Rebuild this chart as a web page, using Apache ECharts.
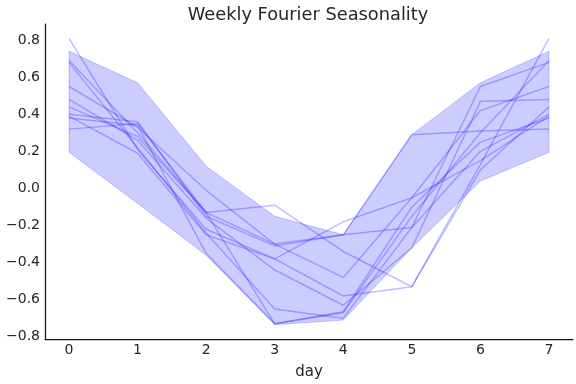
<!DOCTYPE html>
<html><head><meta charset="utf-8">
<script src="https://cdn.jsdelivr.net/npm/echarts@6/dist/echarts.min.js"></script>
<style>html,body{margin:0;padding:0;background:#fff}#c{width:576px;height:384px}</style>
</head><body><div id="c"></div>
<script>
const days = [0, 1, 2, 3, 4, 5, 6, 7];
const bandUpper = [0.74, 0.57, 0.12, -0.15, -0.25, 0.29, 0.57, 0.74];
const bandLower = [0.195, -0.08, -0.36, -0.735, -0.71, -0.32, 0.04, 0.195];
const s1 = [0.81, 0.21, -0.22, -0.38, -0.58, -0.53, 0.13, 0.81];
const s2 = [0.69, 0.30, -0.13, -0.73, -0.67, -0.15, 0.30, 0.69];
const s3 = [0.68, 0.22, -0.24, -0.65, -0.70, -0.21, 0.55, 0.68];
const s4 = [0.55, 0.33, -0.01, -0.30, -0.48, -0.05, 0.42, 0.55];
const s5 = [0.48, 0.26, -0.16, -0.44, -0.63, -0.32, 0.47, 0.48];
const s6 = [0.44, 0.28, -0.13, -0.09, -0.34, -0.53, 0.10, 0.44];
const s7 = [0.40, 0.36, -0.15, -0.31, -0.25, -0.21, 0.20, 0.40];
const s8 = [0.39, 0.19, -0.25, -0.38, -0.18, -0.05, 0.15, 0.39];
const s9 = [0.38, 0.34, -0.35, -0.73, -0.665, -0.10, 0.25, 0.38];
const s10 = [0.32, 0.35, -0.13, -0.30, -0.25, 0.29, 0.31, 0.32];
const samples = [s1, s2, s3, s4, s5, s6, s7, s8, s9, s10];
const yTicks = [-0.8, -0.6, -0.4, -0.2, 0.0, 0.2, 0.4, 0.6, 0.8];
const xTicks = [0, 1, 2, 3, 4, 5, 6, 7];

const FONT = 'DejaVu Sans';
const chart = echarts.init(document.getElementById('c'), null, {renderer: 'canvas'});
const fmtY = v => (v < -1e-9 ? '\u2212' + Math.abs(v).toFixed(1) : Math.abs(v).toFixed(1));

const series = [{
  type: 'custom',
  silent: true,
  data: days.map(d => [d, 0]),
  renderItem: function (params, api) {
    if (params.dataIndex !== 0) return null;
    const pts = [];
    days.forEach((d, i) => pts.push(api.coord([d, bandUpper[i]])));
    for (let i = days.length - 1; i >= 0; i--) pts.push(api.coord([days[i], bandLower[i]]));
    return {
      type: 'polygon',
      shape: {points: pts},
      style: {fill: 'rgba(0,0,255,0.2)', stroke: 'rgba(0,0,255,0.2)', lineWidth: 1}
    };
  },
  z: 1
}];
samples.forEach(s => series.push({
  type: 'line',
  data: days.map((d, i) => [d, s[i]]),
  showSymbol: false,
  silent: true,
  lineStyle: {color: 'rgba(0,0,255,0.25)', width: 1.5},
  z: 2
}));

chart.setOption({
  animation: false,
  title: {
    text: 'Weekly Fourier Seasonality',
    left: 303, top: 1, textAlign: 'center',
    textStyle: {fontFamily: FONT, fontSize: 17.8, fontWeight: 'normal', color: '#262626'}
  },
  grid: {left: 45, right: 3, top: 24, bottom: 45, containLabel: false, outerBoundsMode: 'none'},
  xAxis: {
    type: 'value', min: -0.35, max: 7.35,
    name: 'day', nameLocation: 'middle', nameGap: 26,
    nameTextStyle: {fontFamily: FONT, fontSize: 15, color: '#262626'},
    axisLine: {show: true, onZero: false, lineStyle: {color: '#111', width: 1.25}},
    axisTick: {show: false},
    splitLine: {show: false},
    axisLabel: {customValues: xTicks, fontFamily: FONT, fontSize: 14, color: '#262626', margin: 4,
      formatter: v => String(Math.round(v))}
  },
  yAxis: {
    type: 'value', min: -0.812, max: 0.887,
    axisLine: {show: true, onZero: false, lineStyle: {color: '#111', width: 1.25}},
    axisTick: {show: false},
    splitLine: {show: false},
    axisLabel: {customValues: yTicks, fontFamily: FONT, fontSize: 14, color: '#262626', margin: 5,
      formatter: fmtY}
  },
  series: series
});
</script></body></html>
